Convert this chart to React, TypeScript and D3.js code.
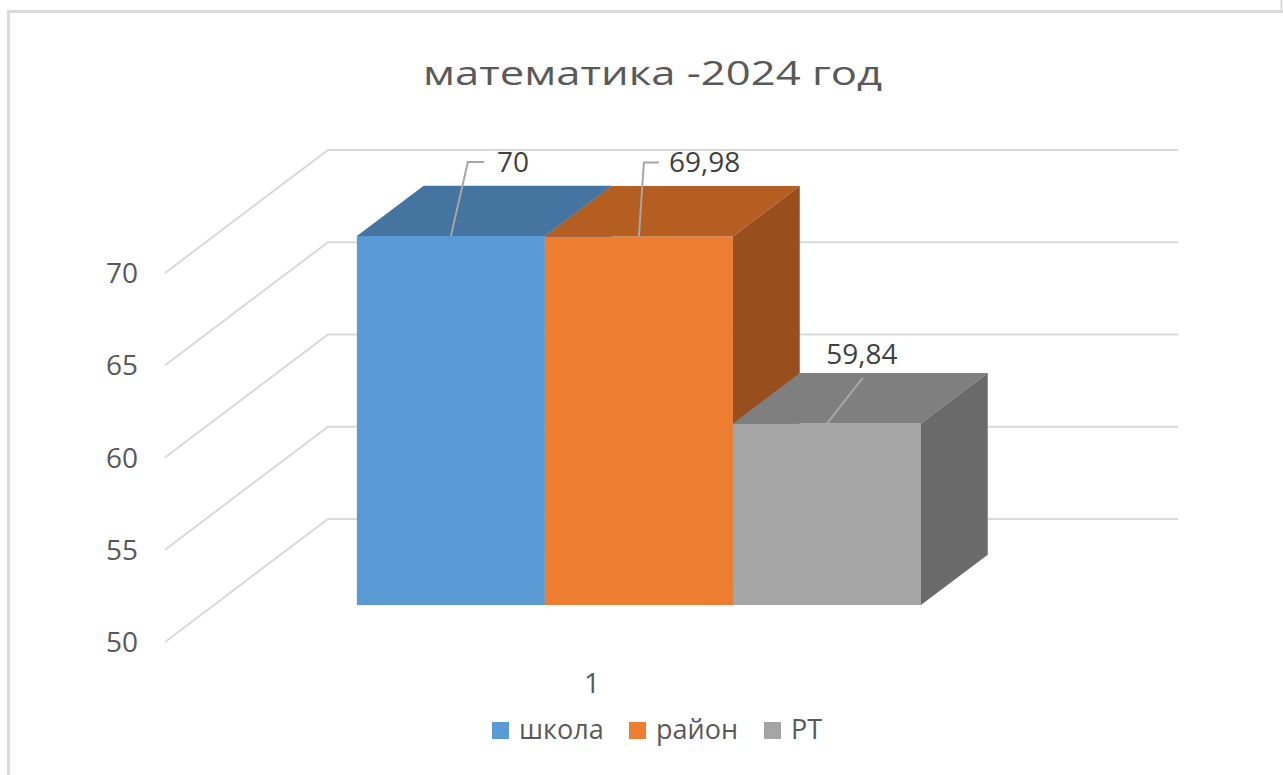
import React from 'react';
import * as d3 from 'd3';

const title = 'математика -2024 год';
const categories = ['1'];
const seriesNames = ['школа', 'район', 'РТ'];
const seriesValues = [70, 69.98, 59.84];
const valueLabels = ['70', '69,98', '59,84'];
const yTicks = [50, 55, 60, 65, 70];

const frontColors = ['#5b9bd5', '#ed7d31', '#a5a5a5'];
const topColors = ['#44749f', '#b45e22', '#7f7f7f'];
const sideColors = ['#3a6a96', '#994e1e', '#6a6a6a'];

// 3d look: depth offset of the back wall
const DX = 163;
const DY = -123;
const D0 = 0.3;
const D1 = 0.71;
const font = '"Open Sans", "Noto Sans", sans-serif';
const textColor = '#595959';

// label placement (text anchor point relative to bar top front center, leader bend)
const labelLayout = [
  { tx: 46, ty: -64, anchor: 'start', bend: [17, -74], end: [33, -74] },
  { tx: 30, ty: -64, anchor: 'start', bend: [5, -74], end: [20, -74] },
  { tx: 35, ty: -60, anchor: 'middle', bend: [36, -46], end: null },
];

const App = () => {
  const y = d3.scaleLinear().domain([50, 70]).range([642, 273]);
  const x = d3.scaleBand().domain(categories).range([165, 1015]).paddingOuter(0.2535);
  const xs = d3.scaleBand().domain(seriesNames).range([0, x.bandwidth()]);

  const P = (px: number, v: number, d: number): [number, number] => [px + DX * d, y(v) + DY * d];
  const line = d3.line();
  const poly = (pts: [number, number][]) => line(pts) + 'Z';

  const bars = seriesNames.map((s, i) => {
    const v = seriesValues[i];
    const xl = (x(categories[0]) as number) + (xs(s) as number);
    const xr = xl + xs.bandwidth();
    const front = poly([P(xl, 50, D0), P(xr, 50, D0), P(xr, v, D0), P(xl, v, D0)]);
    const top = poly([P(xl, v, D0), P(xr, v, D0), P(xr, v, D1), P(xl, v, D1)]);
    const side = poly([P(xr, 50, D0), P(xr, 50, D1), P(xr, v, D1), P(xr, v, D0)]);
    const anchor = P((xl + xr) / 2, v, D0);
    return { s, i, front, top, side, anchor };
  });

  const x0 = x.range()[0];
  const x1 = x.range()[1];

  const legendX = [492, 629, 764];

  return (
    <svg width={1283} height={775} style={{ position: 'absolute', left: 0, top: 0, background: '#fff' }}>
      <rect x={0} y={0} width={1283} height={775} fill="#fff" />
      {/* outer frame */}
      <line x1={7} x2={1283} y1={11.5} y2={11.5} stroke="#dadada" strokeWidth={3} />
      <line x1={8.5} x2={8.5} y1={10} y2={775} stroke="#dadada" strokeWidth={3} />
      <line x1={1281.5} x2={1281.5} y1={0} y2={12} stroke="#dadada" strokeWidth={2} />

      <text
        x={423}
        y={85}
        textLength={459}
        lengthAdjust="spacingAndGlyphs"
        fontFamily={font}
        fontSize={33}
        fill={textColor}
      >
        {title}
      </text>

      {/* gridlines: side wall + back wall */}
      {yTicks.map((t) => (
        <path
          key={t}
          d={line([P(x0, t, 0), P(x0, t, 1), P(x1, t, 1)]) as string}
          fill="none"
          stroke="#d9d9d9"
          strokeWidth={2}
        />
      ))}

      {yTicks.map((t) => (
        <text
          key={'l' + t}
          x={138}
          y={y(t)}
          dy="0.36em"
          textAnchor="end"
          fontFamily={font}
          fontSize={28}
          fill={textColor}
        >
          {t}
        </text>
      ))}

      {bars.map((b) => (
        <g key={b.s}>
          <path d={b.front} fill={frontColors[b.i]} />
          <path d={b.top} fill={topColors[b.i]} />
          <path d={b.side} fill={sideColors[b.i]} />
        </g>
      ))}

      {bars.map((b) => {
        const L = labelLayout[b.i];
        const [ax, ay] = b.anchor;
        const pts: [number, number][] = [[ax, ay], [ax + L.bend[0], ay + L.bend[1]]];
        if (L.end) pts.push([ax + L.end[0], ay + L.end[1]]);
        return (
          <g key={'lab' + b.s}>
            <path d={line(pts) as string} fill="none" stroke={b.i === 2 ? '#a8a8a8' : '#a6a6a6'} strokeWidth={2} />
            <text
              x={ax + L.tx}
              y={ay + L.ty}
              textAnchor={L.anchor as any}
              fontFamily={font}
              fontSize={28}
              fill="#404040"
            >
              {valueLabels[b.i]}
            </text>
          </g>
        );
      })}

      {categories.map((c) => (
        <text
          key={c}
          x={(x(c) as number) + x.bandwidth() / 2 + 2}
          y={693}
          textAnchor="middle"
          fontFamily={font}
          fontSize={28}
          fill={textColor}
        >
          {c}
        </text>
      ))}

      {seriesNames.map((s, i) => (
        <g key={'lg' + s} transform={`translate(${legendX[i]},0)`}>
          <rect x={0} y={722} width={17} height={17} fill={frontColors[i]} />
          <text x={27} y={739} fontFamily={font} fontSize={27} fill={textColor}>
            {s}
          </text>
        </g>
      ))}
    </svg>
  );
};

export default App;
